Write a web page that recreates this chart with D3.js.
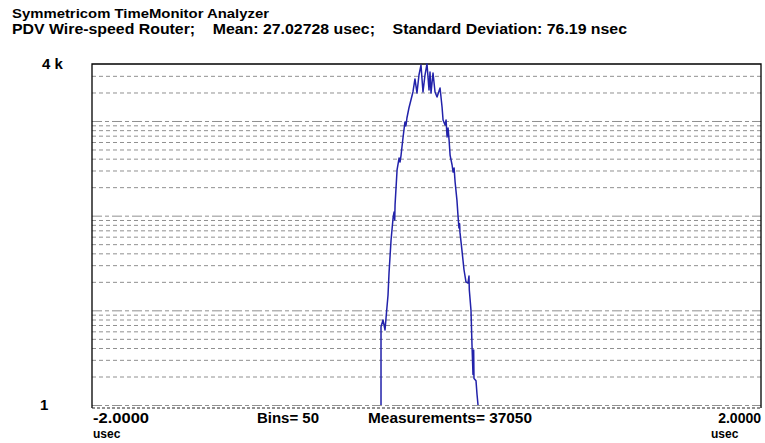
<!DOCTYPE html>
<html>
<head>
<meta charset="utf-8">
<script src="https://cdn.jsdelivr.net/npm/d3@7"></script>
<style>
  html, body { margin: 0; padding: 0; background: #fff; }
  svg { display: block; }
  text { font-family: "Liberation Sans", Arial, sans-serif; font-weight: bold; fill: #000; }
</style>
</head>
<body>
<svg id="chart" width="765" height="443"></svg>
<script>
// ---- data ----
const titleLines = [
  "Symmetricom TimeMonitor Analyzer",
  "PDV Wire-speed Router;    Mean: 27.02728 usec;    Standard Deviation: 76.19 nsec"
];
const xDomain = [-2, 2];            // usec
const yDomain = [1, 4000];          // counts (log)
const yTickLabels = ["1", "4 k"];
const xTickLabels = ["-2.0000", "2.0000"];
const xUnit = "usec";
const binsLabel = "Bins= 50";
const measLabel = "Measurements= 37050";
// dashed log grid lines
const minorGrid = [2,3,4,5,6,7,8,9,20,30,40,50,60,70,80,90,200,300,400,500,600,700,800,900,2000,3000];
const decadeGrid = [1,10,100,1000];
// curve: offset from mean (usec) and count per bin
const offsets = [-0.272,-0.272,-0.260,-0.248,-0.242,-0.230,-0.224,-0.212,-0.200,-0.194,-0.190,-0.188,
  -0.176,-0.164,-0.158,-0.152,-0.140,-0.129,-0.123,-0.117,-0.105,-0.093,-0.081,-0.069,-0.057,-0.045,
  -0.033,-0.021,-0.009,0.003,0.015,0.021,0.027,0.039,0.051,0.063,0.081,0.093,0.099,0.111,0.117,0.123,
  0.129,0.135,0.141,0.153,0.159,0.165,0.171,0.182,0.188,0.194,0.198,0.200,0.212,0.224,0.236,0.248,
  0.254,0.256,0.266,0.272,0.278,0.282,0.284,0.296,0.302,0.308];
const counts = [1,6.7,7.9,6.2,8.3,14.5,25,55,94,109,90,130,
  304,406,369,437,678,975,885,1076,1372,1667,2025,2780,1977,3060,
  3900,2025,3060,4000,2125,3295,1977,3215,2025,1792,2232,1406,1024,907,1024,678,
  843,630,437,343,289,319,227,146,102,74,82,67,43,27,20,19.4,
  23,16.4,10,4.3,2.1,3.8,1.9,1.8,1.3,1];

// ---- layout ----
const svg = d3.select("#chart");
const L = 92, R = 761, T = 64, B = 405, FB = 408;
const x = d3.scaleLinear().domain(xDomain).range([L, R]);
const y = d3.scaleLog().domain(yDomain).range([B, T]);

// titles
svg.append("text").attr("x", 12).attr("y", 18).style("font-size", "13px")
  .attr("textLength", 257).attr("lengthAdjust", "spacingAndGlyphs").text(titleLines[0]);
svg.append("text").attr("x", 12).attr("y", 34).style("font-size", "14px")
  .attr("textLength", 615).attr("lengthAdjust", "spacingAndGlyphs")
  .attr("xml:space", "preserve").style("white-space", "pre").text(titleLines[1]);

// grid lines via axis
const gMinor = svg.append("g").attr("transform", `translate(${L},0)`)
  .call(d3.axisLeft(y).tickValues(minorGrid).tickSize(-(R - L)).tickFormat(""));
gMinor.select(".domain").remove();
gMinor.selectAll("line").attr("stroke", "#909090").attr("stroke-width", 1)
  .attr("stroke-dasharray", "4,3");

const gMajor = svg.append("g").attr("transform", `translate(${L},0)`)
  .call(d3.axisLeft(y).tickValues(decadeGrid).tickSize(-(R - L)).tickFormat(""));
gMajor.select(".domain").remove();
gMajor.selectAll("line").attr("stroke", "#909090").attr("stroke-width", 1)
  .attr("stroke-dasharray", "10,3,4,3");

// frame
svg.append("path")
  .attr("d", `M${L},${FB}V${T}H${R}V${FB}`)
  .attr("fill", "none").attr("stroke", "#000").attr("stroke-width", 1.3);
svg.append("line").attr("x1", L).attr("x2", R).attr("y1", FB).attr("y2", FB)
  .attr("stroke", "#222").attr("stroke-width", 1).attr("stroke-dasharray", "3,2");

// curve
const pts = offsets.map((o, i) => [o, counts[i]]);
svg.append("path").datum(pts)
  .attr("d", d3.line().x(d => x(d[0])).y(d => y(d[1])))
  .attr("fill", "none").attr("stroke", "#2222aa").attr("stroke-width", 1.5)
  .attr("stroke-linejoin", "round");

// y labels
svg.selectAll(".ylab").data([1, 4000]).enter().append("text")
  .attr("class", "ylab")
  .attr("x", (d, i) => i === 0 ? 40 : 42)
  .attr("y", d => y(d) + 5)
  .style("font-size", "15px")
  .text((d, i) => yTickLabels[i]);

// x labels
svg.append("text").attr("x", x(xDomain[0]) + 1).attr("y", 423).style("font-size", "14px")
  .attr("textLength", 56).attr("lengthAdjust", "spacingAndGlyphs").text(xTickLabels[0]);
svg.append("text").attr("x", x(xDomain[0]) + 1).attr("y", 438).style("font-size", "12px").text(xUnit);
svg.append("text").attr("x", x(xDomain[1])).attr("y", 423).attr("text-anchor", "end").style("font-size", "14px").text(xTickLabels[1]);
svg.append("text").attr("x", 711).attr("y", 438).style("font-size", "12px").text(xUnit);
svg.append("text").attr("x", 257).attr("y", 423).style("font-size", "14px")
  .attr("textLength", 62).attr("lengthAdjust", "spacingAndGlyphs").text(binsLabel);
svg.append("text").attr("x", 368).attr("y", 423).style("font-size", "14px")
  .attr("textLength", 164).attr("lengthAdjust", "spacingAndGlyphs").text(measLabel);
</script>
</body>
</html>
